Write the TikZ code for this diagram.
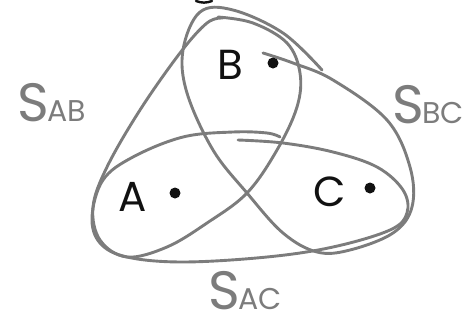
\documentclass[tikz,border=0pt]{standalone}
\usepackage{fontspec}
\setmainfont{Poppins}
\usepackage{tikz}
\usetikzlibrary{positioning}
\definecolor{cLoop}{HTML}{7C7C7C}
\definecolor{cInk}{HTML}{111111}
\tikzset{
  loop/.style={draw=cLoop, line width=2.9pt, line cap=round, line join=round},
  pt/.style={circle, fill=cInk, inner sep=0pt, minimum size=11pt},
  lbl/.style={text=cInk, font=\fontsize{42}{42}\selectfont, inner sep=0pt},
  set/.style={text=cLoop, font=\fontsize{54}{54}\selectfont, inner sep=0pt}
}
\newcommand{\Sset}[1]{S\kern-2pt{\fontsize{30}{30}\selectfont #1}}
\begin{document}
\begin{tikzpicture}[x=1pt, y=-1pt]
\useasboundingbox (0,0) rectangle (472,322);
% loop round A and B
\draw[loop] plot[smooth, tension=0.6] coordinates {(223,18) (207,23) (180,53) (140,110) (107,167) (93,207) (100,240) (127,257) (167,247) (207,223) (247,193) (277,150) (297,107) (300,73) (287,43) (253,23) (218,17)};
% loop round B and C
\draw[loop] plot[smooth, tension=0.6] coordinates {(263,53) (293,63) (333,80) (387,120) (410,167) (412,207) (393,233) (350,250) (317,252) (283,233) (247,193) (213,150) (187,93) (183,50) (200,12) (233,10) (283,33) (322,70)};
% loop round A and C
\draw[loop] plot[smooth, tension=0.6] coordinates {(238,140) (283,143) (333,152) (377,167) (403,190) (407,213) (390,230) (333,247) (267,257) (183,262) (127,257) (100,243) (92,217) (103,180) (133,157) (183,137) (233,132) (267,133) (280,137)};
% points
\node[lbl] (a) at (133,197) {A};
\node[pt] (pa) at (175,193) {};
\node[lbl] (b) at (230,65) {B};
\node[pt] (pb) at (273,63) {};
\node[lbl] (c) at (330,192) {C};
\node[pt] (pc) at (370,188) {};
% set labels
\node[set] (sab) at (52,103) {\Sset{AB}};
\node[set] (sbc) at (428,105) {\Sset{BC}};
\node[set] (sac) at (245,291) {\Sset{AC}};
% stroke cut at the top
\draw[cInk, line width=2.4pt, line cap=round] (196,1) to[bend right=20] (212,1);
\end{tikzpicture}
\end{document}
